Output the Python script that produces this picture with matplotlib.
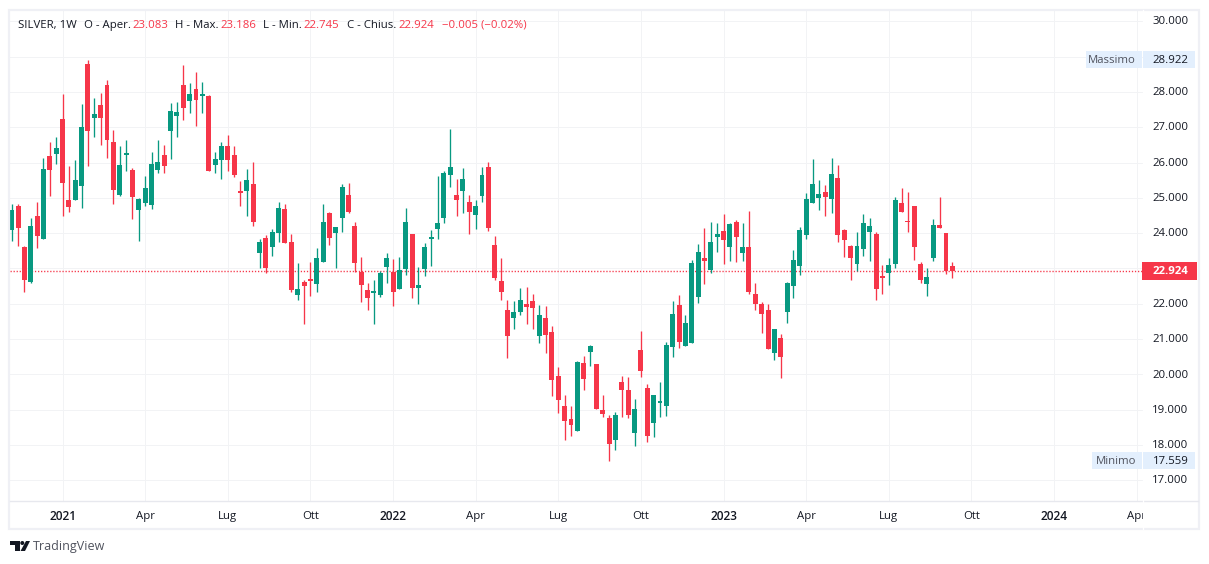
import matplotlib
matplotlib.use("Agg")
import matplotlib.pyplot as plt
from matplotlib.patches import Rectangle, Polygon, Circle
from matplotlib.lines import Line2D
import numpy as np

W, H = 1209, 564

# Weekly SILVER candles
opens = [24.09, 24.77, 23.61, 22.62, 24.49, 23.84, 26.19, 26.24, 27.23, 24.94,
         24.94, 25.34, 28.79, 27.26, 27.63, 28.20, 26.58, 25.08, 26.22, 25.79,
         24.66, 24.85, 24.80, 25.79, 26.22, 26.90, 27.32, 28.20, 27.75, 28.08,
         27.89, 27.89, 25.93, 26.07, 26.47, 26.22, 25.20, 25.20, 25.39, 23.44,
         23.86, 23.61, 24.00, 24.69, 23.75, 22.25, 22.62, 22.70, 22.56, 23.18,
         24.57, 24.01, 24.43, 25.08, 24.20, 22.90, 22.39, 22.31, 22.25, 23.04,
         22.90, 22.42, 22.99, 23.98, 22.45, 22.99, 23.84, 24.12, 24.43, 25.65,
         25.08, 25.20, 24.88, 24.52, 25.05, 25.88, 23.66, 22.65, 21.82, 21.60,
         21.77, 22.00, 22.08, 21.09, 21.60, 21.20, 19.95, 19.11, 18.74, 18.40,
         20.32, 20.63, 20.29, 18.99, 18.76, 18.14, 19.78, 19.56, 18.34, 20.69,
         19.62, 18.62, 19.19, 19.11, 20.78, 21.97, 20.80, 20.89, 22.19, 23.30,
         22.96, 23.89, 24.06, 23.61, 24.32, 23.44, 23.61, 22.28, 22.00, 21.82,
         20.61, 21.03, 21.77, 22.50, 23.07, 23.95, 24.86, 25.00, 25.17, 24.97,
         25.56, 24.09, 23.64, 23.13, 23.55, 24.03, 23.98, 22.79, 22.87, 23.13,
         24.86, 24.35, 24.77, 23.13, 22.56, 23.30, 24.23, 24.01, 23.083]
highs = [24.83, 24.83, 23.64, 24.43, 24.88, 26.13, 26.58, 26.72, 27.94, 25.90,
         26.07, 27.66, 28.92, 27.83, 27.97, 28.34, 26.92, 26.47, 26.64, 25.85,
         25.00, 25.62, 26.30, 26.64, 26.50, 27.69, 27.72, 28.77, 28.25, 28.57,
         28.28, 27.91, 26.30, 26.58, 26.78, 26.47, 25.48, 25.82, 26.02, 23.84,
         23.95, 24.12, 24.88, 24.83, 23.98, 23.16, 22.67, 23.18, 23.58, 24.83,
         24.60, 24.18, 25.39, 25.42, 24.32, 23.33, 22.59, 22.67, 22.93, 23.44,
         23.27, 23.33, 24.71, 23.98, 23.04, 23.72, 24.09, 25.62, 25.76, 26.95,
         25.54, 25.85, 25.08, 24.94, 25.88, 26.02, 23.92, 23.30, 22.11, 22.08,
         22.45, 22.48, 22.28, 21.97, 21.94, 21.37, 20.21, 19.42, 19.11, 20.38,
         20.52, 20.83, 20.29, 19.42, 18.85, 18.93, 19.95, 19.93, 19.30, 21.23,
         19.73, 19.42, 19.79, 20.92, 22.08, 22.25, 21.68, 23.24, 23.69, 24.15,
         24.32, 24.29, 24.54, 24.29, 24.37, 24.29, 24.63, 22.59, 22.05, 22.00,
         21.29, 21.14, 22.62, 23.52, 24.18, 25.14, 26.10, 25.51, 25.37, 26.13,
         25.93, 24.12, 23.67, 24.03, 24.54, 24.43, 24.03, 23.10, 23.30, 25.03,
         25.28, 25.17, 24.77, 23.18, 23.01, 24.40, 25.03, 24.01, 23.186]
lows = [23.78, 23.64, 22.33, 22.59, 23.58, 23.84, 25.05, 25.96, 24.49, 24.60,
        24.94, 24.71, 25.90, 26.72, 26.50, 26.13, 24.83, 25.05, 25.76, 24.40,
        23.78, 24.77, 24.69, 25.70, 25.70, 26.10, 26.72, 27.21, 27.40, 27.04,
        27.40, 25.76, 25.70, 25.54, 25.76, 25.59, 24.77, 24.49, 24.20, 23.01,
        22.87, 23.35, 23.75, 23.72, 22.33, 22.11, 21.43, 22.22, 22.33, 23.18,
        23.66, 23.01, 24.03, 24.57, 22.90, 22.05, 21.82, 21.43, 22.19, 22.59,
        21.94, 22.42, 22.82, 22.16, 21.99, 22.79, 23.07, 23.84, 24.29, 25.31,
        24.49, 24.57, 23.98, 24.12, 24.88, 24.06, 22.67, 22.11, 20.46, 21.29,
        21.68, 21.43, 21.29, 20.89, 20.61, 19.39, 18.91, 18.14, 18.25, 18.40,
        19.56, 20.24, 19.02, 18.79, 17.559, 17.86, 18.79, 18.76, 17.97, 19.93,
        18.09, 18.23, 18.79, 18.82, 20.49, 20.75, 20.80, 20.89, 22.02, 22.56,
        22.87, 23.47, 23.13, 23.21, 23.18, 23.21, 22.28, 21.82, 21.17, 20.72,
        20.41, 19.90, 21.46, 22.16, 22.82, 23.84, 24.86, 24.66, 24.49, 24.57,
        23.75, 23.33, 22.67, 22.93, 23.35, 23.21, 22.11, 22.28, 22.53, 23.01,
        24.60, 24.03, 23.24, 22.59, 22.22, 23.21, 24.15, 22.84, 22.745]
closes = [24.66, 24.15, 22.67, 24.20, 23.92, 25.82, 25.79, 26.41, 25.42, 24.74,
          25.51, 27.01, 26.90, 27.38, 27.26, 26.64, 25.22, 25.93, 26.27, 25.02,
          24.97, 25.28, 25.96, 26.02, 25.90, 27.46, 27.43, 27.55, 27.94, 27.77,
          27.94, 25.76, 26.10, 26.47, 26.07, 25.65, 25.14, 25.51, 24.32, 23.75,
          23.01, 24.03, 24.71, 23.72, 22.39, 22.42, 22.50, 22.65, 23.30, 24.32,
          23.86, 24.18, 25.31, 24.60, 23.16, 22.53, 22.16, 22.36, 22.87, 23.30,
          22.33, 22.96, 24.32, 22.45, 22.53, 23.61, 23.89, 24.29, 25.71, 25.88,
          24.94, 25.54, 24.60, 24.77, 25.65, 24.15, 22.73, 22.33, 21.09, 21.77,
          22.11, 21.91, 21.88, 21.68, 21.12, 19.84, 19.27, 18.68, 18.57, 20.35,
          19.87, 20.80, 19.02, 18.88, 18.03, 18.85, 19.56, 18.85, 19.02, 20.10,
          18.26, 19.42, 19.25, 20.83, 21.71, 20.92, 21.46, 23.16, 23.47, 23.21,
          23.75, 23.98, 23.81, 24.26, 23.89, 23.61, 22.33, 22.00, 21.71, 20.72,
          21.29, 20.49, 22.59, 23.24, 24.09, 24.97, 25.39, 25.11, 25.03, 25.68,
          23.95, 23.81, 23.30, 23.64, 24.29, 24.20, 22.42, 22.73, 23.10, 24.94,
          24.60, 24.32, 23.61, 22.67, 22.76, 24.23, 24.15, 22.93, 22.924]

price_ticks = [17, 18, 19, 20, 21, 22, 23, 24, 25, 26, 27, 28, 29, 30]
# 29 and 23 sit under the Massimo and last price tags
price_labels = [17, 18, 19, 20, 21, 22, 24, 25, 26, 27, 28, 30]
time_ticks = [8, 21, 34, 47, 60, 73, 86, 99, 112, 125, 138, 151, 164, 177]
time_labels = ["2021", "Apr", "Lug", "Ott", "2022", "Apr", "Lug", "Ott", "2023", "Apr", "Lug", "Ott", "2024", "Apr"]
last_price = 22.924
max_price = 28.922
min_price = 17.559

legend_parts = [
    (18, "SILVER, 1W", "dark"), (84, "O - Aper.", "dark"), (132, "23.083", "red"),
    (175, "H - Max.", "dark"), (220, "23.186", "red"), (263, "L - Min.", "dark"),
    (303, "22.745", "red"), (347, "C - Chius.", "dark"), (398, "22.924", "red"),
    (442, "\u22120.005 (\u22120.02%)", "red"),
]

GREEN = "#089981"
RED = "#f63649"
DARK = "#131722"
GRID = "#f2f3f5"
FRAME = "#eff0f5"
TAG = "#e3effd"

plt.rcParams["font.family"] = ["Open Sans", "DejaVu Sans"]
FONT = 8.2


def fx(px):
    return px / W


def fy(py):
    return 1 - py / H


def pane(x0, y0, x1, y1):
    return [fx(x0), fy(y1), (x1 - x0) / W, (y1 - y0) / H]


fig = plt.figure(figsize=(W / 100, H / 100), dpi=100, facecolor="white")

# pixel overlay for frame, tags and logo
overlay = fig.add_axes([0, 0, 1, 1], zorder=5)
overlay.set_xlim(0, W)
overlay.set_ylim(H, 0)
overlay.axis("off")

ax = fig.add_axes(pane(10, 10, 1143, 501), zorder=1)
px_per_bar = 6.356
ax.set_xlim((10 - 11.67) / px_per_bar, (1143 - 11.67) / px_per_bar)
# 35.3 px per price unit, 28.000 sits at y=92
ax.set_ylim(28 - (501 - 92) / 35.3, 28 + (92 - 10) / 35.3)
for s in ax.spines.values():
    s.set_visible(False)
ax.tick_params(left=False, bottom=False, labelleft=False, labelbottom=False)

for t in price_ticks:
    ax.axhline(t, color=GRID, lw=0.72, zorder=0)
for t in time_ticks:
    ax.axvline(t, color=GRID, lw=0.72, zorder=0)

last_line = ax.axhline(last_price, color=RED, lw=1.0, ls=(0, (0.9, 1.3)), zorder=1)

x = np.arange(len(opens))
o, h, l, c = map(np.array, (opens, highs, lows, closes))
colors = np.where(c >= o, GREEN, RED)
wicks = ax.vlines(x, l, h, colors=colors, lw=0.95, zorder=2)
wicks.set_snap(True)
ax.bar(x, np.abs(c - o), bottom=np.minimum(o, c), width=0.78, color=colors, linewidth=0, zorder=3)

# time axis, with its own pane so the last label gets clipped
ax_time = fig.add_axes(pane(10, 501, 1143, 529), zorder=2)
ax_time.set_xlim(ax.get_xlim())
ax_time.set_ylim(0, 1)
ax_time.axis("off")
for t, lab in zip(time_ticks, time_labels):
    is_year = lab.isdigit()
    ax_time.text(t, 0.46, lab, ha="center", va="center", fontsize=FONT + (0.4 if is_year else 0),
                 color=DARK, fontweight="semibold" if is_year else "normal", clip_on=True)

# panel frame
overlay.add_patch(Rectangle((9, 10), 1189.5, 519, fill=False, ec=FRAME, lw=1.6))
overlay.add_line(Line2D([10, 1198], [501, 501], color="#e7e8ee", lw=1.0))
overlay.add_line(Line2D([1143, 1143], [10, 529], color="#ffffff", lw=0.9))


def y_of(price):
    return 92 + (28 - price) * 35.3


for p in price_labels:
    overlay.text(1188.5, y_of(p) + 0.6, "%.3f" % p, ha="right", va="center", fontsize=FONT, color=DARK)

# max / min tags
for name, val, left in (("Massimo", max_price, 1086), ("Minimo", min_price, 1092)):
    yc = y_of(val)
    overlay.add_patch(Rectangle((left, yc - 8.5), 1142 - left, 17, fc=TAG, ec="none", zorder=3))
    overlay.add_patch(Rectangle((1143, yc - 8.5), 52, 17, fc=TAG, ec="none", zorder=3))
    overlay.text(1136, yc + 0.6, name, ha="right", va="center", fontsize=FONT, color="#50535e", zorder=4)
    overlay.text(1188.5, yc + 0.6, "%.3f" % val, ha="right", va="center", fontsize=FONT, color=DARK, zorder=4)

# last price tag
yc = y_of(last_price)
overlay.add_patch(Rectangle((1142, yc - 9), 55, 18, fc=RED, ec="none", zorder=3))
overlay.text(1188.5, yc + 0.6, "%.3f" % last_price, ha="right", va="center", fontsize=FONT, color="white",
             fontweight="bold", zorder=4)

# legend line
for xp, txt, kind in legend_parts:
    overlay.text(xp, 25.3, txt, ha="left", va="center", fontsize=FONT, color=RED if kind == "red" else DARK)

# TradingView logo
overlay.add_patch(Polygon([(10, 541), (20, 541), (20, 551), (15, 551), (15, 545), (10, 545)], fc="#131722", ec="none"))
overlay.add_patch(Circle((22.3, 543), 2, fc="#131722", ec="none"))
overlay.add_patch(Polygon([(26, 541), (30, 541), (25, 551), (20.5, 551)], fc="#131722", ec="none"))
overlay.text(33, 546.5, "TradingView", ha="left", va="center", fontsize=9.0, color="#50535e")

fig.savefig("out.png", dpi=100, facecolor="white")
